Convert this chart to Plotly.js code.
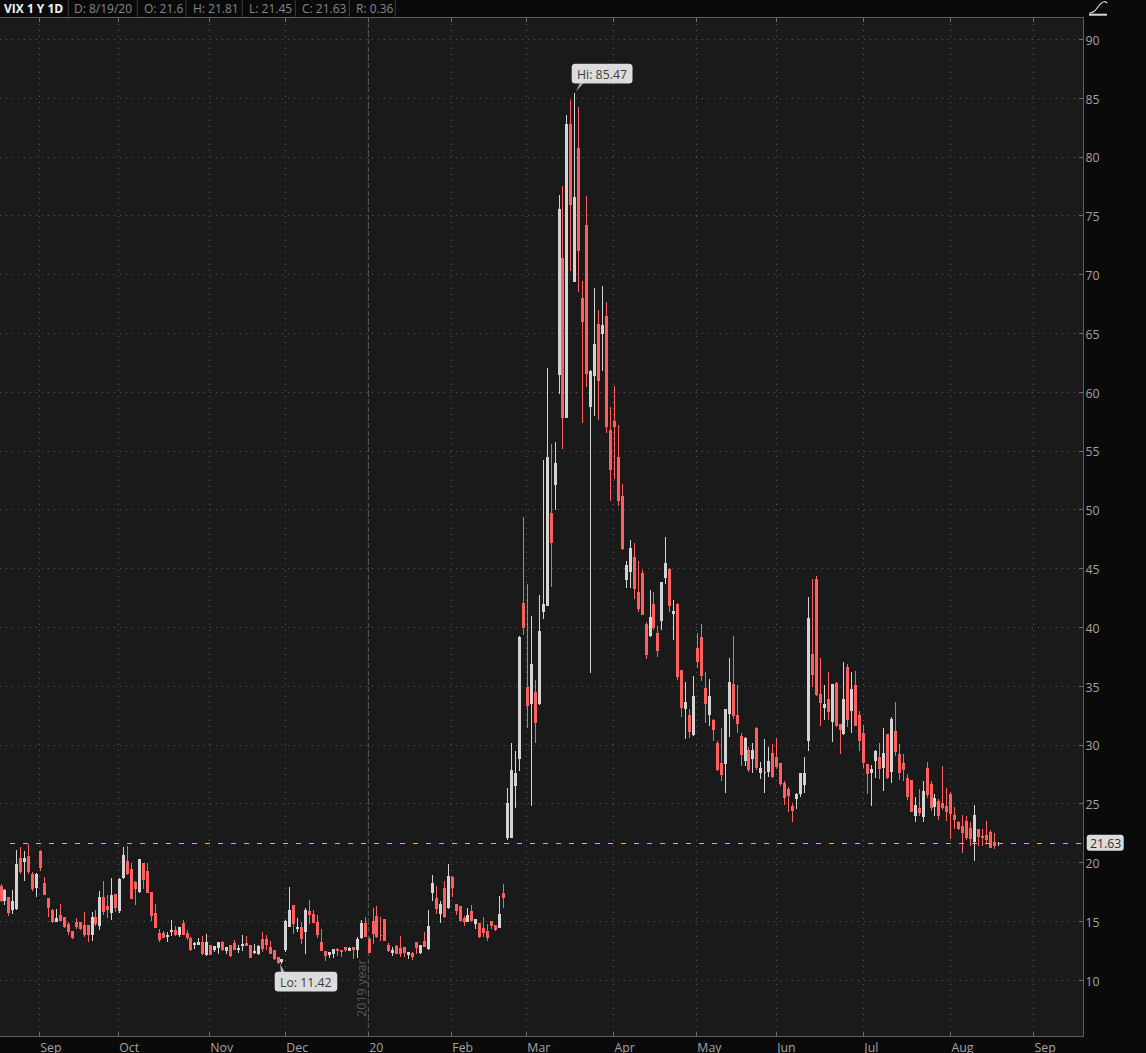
<!DOCTYPE html>
<html><head><meta charset="utf-8">
<script src="https://cdn.plot.ly/plotly-3.0.1.min.js"></script>
<style>html,body{margin:0;padding:0;background:#0a0a0a;overflow:hidden}#c{width:1146px;height:1053px}
.boxlayer path{shape-rendering:crispEdges !important}</style>
</head><body><div id="c"></div>
<script>
const highs=[18.22,17.80,17.09,17.71,21.10,21.36,21.05,21.61,19.21,19.16,
21.10,18.84,17.04,16.08,16.10,16.53,15.40,14.97,14.27,15.34,
15.00,15.82,14.66,15.82,16.02,17.60,18.48,17.32,18.73,17.32,
18.73,21.41,21.44,20.00,18.51,20.34,20.00,20.00,17.46,16.53,
14.41,14.21,14.13,15.17,14.66,14.61,15.17,14.32,13.70,13.28,
13.65,13.79,13.99,13.08,13.00,13.34,13.36,12.91,13.05,13.48,
13.05,13.90,13.82,13.00,13.14,13.08,14.13,13.87,13.36,12.63,
12.01,11.81,15.20,17.97,16.41,15.34,14.97,16.16,16.87,16.02,
15.60,14.41,12.57,12.46,12.69,12.80,12.63,12.86,12.91,12.86,
13.73,15.17,15.45,13.70,16.19,16.33,15.40,15.23,13.25,12.91,
13.08,13.82,12.91,12.49,12.46,13.31,13.08,14.15,16.02,19.01,
18.05,16.81,18.45,19.97,18.90,16.47,16.39,15.54,16.16,16.47,
15.26,14.89,15.40,14.83,15.06,14.77,17.21,18.22,26.36,30.19,
29.51,39.28,49.48,43.76,41.04,35.54,42.82,54.32,62.14,55.68,
55.85,76.84,77.61,83.64,84.86,85.47,84.32,69.53,76.76,61.97,
68.94,67.07,69.11,67.75,58.80,60.58,57.27,52.28,45.74,47.52,
47.27,45.71,44.97,40.55,43.19,43.02,40.21,43.81,47.78,45.09,
42.42,42.11,36.42,35.37,33.10,35.88,39.56,40.33,36.25,35.65,
32.28,30.41,31.49,33.05,37.47,39.34,35.14,31.09,30.75,29.85,
30.24,31.60,28.60,30.55,29.90,30.13,30.64,28.51,26.99,26.50,
25.14,25.99,27.69,29.05,42.62,44.15,44.44,37.44,35.14,36.25,
35.17,35.40,31.77,37.10,36.93,36.25,36.33,32.96,31.77,28.43,
28.34,29.62,30.21,31.49,30.92,32.42,33.70,30.16,29.28,27.58,
27.01,25.63,26.30,27.01,28.63,27.01,25.88,25.48,28.29,26.39,
26.05,24.77,23.56,24.12,24.01,23.50,24.95,22.91,22.93,23.61,
22.82,22.59,21.81];
const lows=[16.67,16.47,15.48,15.68,16.02,19.07,18.48,19.07,17.60,17.09,
19.35,17.26,15.40,14.92,14.97,15.06,14.52,13.90,13.53,14.41,
14.35,13.70,13.28,13.36,14.69,14.32,15.62,15.34,15.17,15.82,
15.74,18.67,19.01,16.92,16.41,17.43,17.77,17.43,15.06,14.47,
13.34,13.62,13.28,13.79,13.85,13.70,13.90,13.48,12.57,12.69,
13.03,12.23,12.15,12.21,12.43,12.26,12.57,12.32,12.01,12.60,
12.35,12.52,12.97,11.92,12.32,12.21,12.49,12.66,12.26,11.81,
11.45,11.42,12.46,14.61,13.99,14.13,13.14,12.29,14.83,14.92,
13.65,12.52,11.67,11.92,11.95,12.15,12.01,12.49,12.52,11.84,
11.95,13.56,13.70,12.38,13.14,13.62,13.36,13.42,12.46,12.15,
12.29,12.01,12.01,11.87,11.78,12.29,12.29,12.86,12.60,16.81,
15.68,14.89,15.31,16.13,17.09,15.60,15.00,14.64,14.97,15.00,
14.41,13.65,13.70,13.36,14.41,14.27,14.47,16.16,21.94,22.17,
24.72,27.83,39.37,31.46,24.89,30.24,33.44,40.78,41.86,43.50,
50.02,59.93,55.26,57.84,70.36,69.39,68.57,57.44,60.50,36.20,
58.00,57.67,61.86,56.59,50.78,52.68,50.41,46.65,43.42,43.42,
42.48,41.38,41.09,37.33,39.22,39.85,37.55,39.85,43.76,41.38,
39.00,35.54,32.45,30.53,30.67,30.84,36.56,35.51,31.89,31.63,
30.36,27.86,26.96,25.94,30.75,32.28,31.04,28.29,28.29,27.72,
27.64,27.95,27.13,25.94,27.35,27.24,28.03,26.59,24.97,24.32,
23.53,24.63,25.65,25.99,29.50,34.95,34.24,31.69,32.20,32.20,
30.33,31.60,29.25,30.92,31.55,31.04,31.69,29.50,28.12,25.88,
24.89,27.21,27.18,26.11,27.15,26.84,29.14,27.10,26.96,25.40,
24.32,23.53,24.04,23.53,25.51,24.46,24.04,23.70,24.52,23.56,
22.08,22.88,22.85,20.89,21.97,21.46,20.21,21.49,21.49,21.63,
21.29,21.18,21.45];
const opens=[18.00,16.75,17.04,16.02,16.10,20.37,20.12,20.54,19.01,17.91,
20.99,18.25,16.98,15.96,15.00,15.54,15.34,14.72,14.18,14.95,
14.95,14.69,14.66,13.93,15.37,14.66,17.07,16.30,15.74,17.26,
15.96,18.70,20.12,19.41,18.34,17.54,19.95,19.27,17.43,15.68,
14.01,13.99,13.76,14.18,14.24,13.87,14.86,14.01,13.59,13.03,
13.08,13.22,12.18,13.00,12.63,12.80,13.25,12.57,13.00,13.17,
12.60,12.94,13.14,12.97,12.35,12.29,13.48,13.48,12.83,12.57,
11.92,11.56,12.63,14.61,16.39,14.41,14.47,14.18,15.88,15.62,
14.95,13.25,12.49,12.23,12.29,12.60,12.54,12.80,12.57,12.80,
12.60,13.65,14.86,13.48,15.00,15.45,13.85,15.20,13.00,12.40,
12.91,12.74,12.83,12.18,12.29,13.25,12.38,13.34,12.71,17.43,
16.98,15.65,17.83,16.19,18.70,16.47,16.30,15.23,15.00,15.88,
14.86,14.86,14.44,14.18,15.00,14.69,14.52,17.40,22.17,22.17,
26.59,28.88,42.03,34.89,33.53,34.46,33.50,41.35,41.86,49.68,
52.14,61.49,71.35,57.84,82.74,69.39,80.70,67.95,74.15,58.77,
61.41,65.74,64.97,66.42,56.73,57.50,54.44,51.12,44.07,44.75,
45.94,42.96,44.58,40.24,39.31,41.94,39.48,40.58,44.24,44.92,
41.18,41.94,36.33,33.10,32.51,30.89,38.23,39.17,34.83,32.62,
32.11,30.16,28.46,28.46,32.71,35.17,32.54,30.75,28.71,29.56,
28.88,31.43,27.69,27.64,27.78,29.31,28.97,28.46,26.76,26.25,
24.80,25.48,25.91,26.67,30.41,37.72,44.09,34.32,33.22,33.90,
32.03,35.26,31.77,31.01,36.62,32.96,35.09,32.54,31.01,28.37,
27.69,28.71,28.97,28.12,30.92,27.78,31.18,29.22,28.46,27.18,
27.01,24.04,24.63,23.95,28.03,26.67,24.80,25.23,25.06,24.80,
25.82,24.04,23.44,23.10,23.53,22.93,21.83,22.85,22.25,22.34,
22.59,21.74,21.60];
const closes=[16.81,17.60,15.79,16.73,19.86,19.27,20.37,19.21,17.83,19.01,
19.58,17.32,16.22,14.97,15.23,15.12,14.58,14.18,13.65,14.58,
14.41,13.90,13.93,15.37,14.83,17.07,15.82,16.02,17.23,16.19,
18.59,20.62,19.07,16.98,17.83,20.28,18.59,17.49,15.51,14.52,
13.50,13.67,13.85,14.27,13.93,14.52,13.93,13.65,12.60,13.14,
13.22,12.32,13.25,12.23,12.91,13.19,12.60,12.77,12.07,12.66,
12.71,13.05,13.00,11.98,12.46,12.91,12.69,13.08,12.32,11.84,
11.50,11.75,14.97,15.96,14.80,14.49,13.59,15.91,15.62,14.95,
13.90,12.57,12.07,12.35,12.63,12.52,12.49,12.60,12.74,12.60,
13.48,14.86,13.76,12.40,13.99,13.76,13.79,13.42,12.52,12.57,
12.32,12.32,12.38,12.40,12.04,12.83,13.00,12.91,14.61,18.25,
16.10,16.41,15.45,18.84,17.91,15.96,15.12,15.00,15.54,15.06,
15.20,13.70,14.07,13.67,14.69,14.35,15.62,17.07,25.03,27.83,
27.58,39.17,40.02,33.36,36.84,31.91,39.65,41.94,54.44,47.21,
53.93,75.51,57.84,82.74,75.94,76.53,72.03,65.99,61.57,61.74,
64.04,60.98,65.65,57.07,53.42,57.07,50.78,46.70,45.26,46.70,
43.30,41.60,41.09,37.69,40.84,39.99,38.03,43.81,45.43,41.86,
41.35,35.82,33.19,33.61,31.15,34.12,37.13,35.94,33.56,34.15,
31.35,27.95,27.52,33.05,35.34,32.54,31.86,29.22,30.58,27.95,
29.56,28.12,28.03,27.69,28.63,27.35,28.17,26.76,25.57,25.74,
24.46,25.82,27.61,27.61,40.75,36.02,34.32,33.64,33.47,32.88,
35.17,31.69,31.35,33.90,32.20,34.75,31.69,30.41,28.54,27.61,
27.95,29.48,28.03,29.31,27.27,32.20,29.48,27.69,27.95,25.65,
24.38,24.89,24.29,26.08,25.82,24.72,25.48,24.04,24.72,24.38,
24.21,23.70,22.93,22.59,22.17,22.08,24.04,22.25,22.11,21.97,
21.32,21.49,21.63];

const monthTicks=[9.68,29.64,52.64,71.85,92.82,113.8,132.75,154.74,175.7,195.9,217.9,239.9,260.9];
const monthLabels=['Sep','Oct','Nov','Dec','20','Feb','Mar','Apr','May','Jun','Jul','Aug','Sep'];
const priceTicks=[10,15,20,25,30,35,40,45,50,55,60,65,70,75,80,85,90];
const headerTexts=['D: 8/19/20','O: 21.6','H: 21.81','L: 21.45','C: 21.63','R: 0.36'];
const lastClose=closes[closes.length-1];

const W=1146,H=1053,mL=0,mR=63,mT=18,mB=17;
const pw=W-mL-mR,ph=H-mT-mB;
const px=x=>(x-mL)/pw, py=y=>1-(y-mT)/ph;
const P=(x,y)=>px(x).toFixed(5)+','+py(y).toFixed(5);
function rr(x0,y0,x1,y1,r){
  return 'M'+P(x0+r,y0)+' L'+P(x1-r,y0)+' Q'+P(x1,y0)+' '+P(x1,y0+r)+' L'+P(x1,y1-r)+' Q'+P(x1,y1)+' '+P(x1-r,y1)+
         ' L'+P(x0+r,y1)+' Q'+P(x0,y1)+' '+P(x0,y1-r)+' L'+P(x0,y0+r)+' Q'+P(x0,y0)+' '+P(x0+r,y0)+' Z';
}
const paperShape=(path,fill,line,w)=>({type:'path',xref:'paper',yref:'paper',path:path,fillcolor:fill||'rgba(0,0,0,0)',line:{color:line||'rgba(0,0,0,0)',width:w||0},layer:'above'});
const vline=x=>({type:'line',xref:'paper',yref:'paper',x0:px(x),x1:px(x),y0:py(0),y1:py(17.5),line:{color:'#3c3c3c',width:1},layer:'above'});

const labelFill='#dcdcdc';
const shapes=[
 {type:'line',xref:'paper',yref:'y',x0:px(10),x1:1,y0:lastClose,y1:lastClose,line:{color:'#e2c22e',width:1,dash:'5px,8px'},layer:'above'},
 {type:'line',xref:'x',yref:'paper',x0:monthTicks[4],x1:monthTicks[4],y0:0,y1:1,line:{color:'#5a5a5a',width:1,dash:'5px,3px'},layer:'below'},
 paperShape(rr(571.7,63.8,632.5,83.6,3.5),labelFill),
 paperShape('M'+P(580,83)+' L'+P(583.5,83)+' L'+P(576,91.5)+' Z','#b4b4b4'),
 paperShape(rr(274.7,971.8,337.3,991.6,3.5),labelFill),
 paperShape('M'+P(281,972)+' L'+P(284.5,972)+' L'+P(280,963.5)+' Z','#b4b4b4'),
 paperShape(rr(1086.7,834.8,1123.7,850.8,3),labelFill),
 vline(68.3),vline(137.3),vline(186),vline(242.3),vline(295.3),vline(349.3),vline(395.3),
 paperShape('M'+P(1089.3,13)+' C'+P(1093.5,13)+' '+P(1095,11)+' '+P(1097.5,7.5)+' C'+P(1100,4)+' '+P(1102.5,1.5)+' '+P(1105,1.5)+' L'+P(1107.3,3),null,'#d8d8d8',1.2),
 paperShape('M'+P(1089,14.7)+' L'+P(1107,14.7),null,'#d8d8d8',2)
];
const F='"Open Sans", sans-serif';
const headerX=[72,141.7,190.7,247,299.7,354];
const annotations=[
 {xref:'paper',yref:'paper',x:px(2),y:py(8.5),xanchor:'left',yanchor:'middle',text:'<b>VIX 1 Y 1D</b>',showarrow:false,font:{family:F,size:12,color:'#f4f4f4'}},
 ...headerTexts.map((t,i)=>({xref:'paper',yref:'paper',x:px(headerX[i]),y:py(8.5),xanchor:'left',yanchor:'middle',text:t,showarrow:false,font:{family:F,size:12,color:'#868686'}})),
 {xref:'paper',yref:'paper',x:px(602.1),y:py(74),xanchor:'center',yanchor:'middle',text:'Hi: 85.47',showarrow:false,font:{family:F,size:12.3,color:'#3a3a3a'}},
 {xref:'paper',yref:'paper',x:px(306),y:py(982),xanchor:'center',yanchor:'middle',text:'Lo: 11.42',showarrow:false,font:{family:F,size:12.3,color:'#3a3a3a'}},
 {xref:'paper',yref:'y',x:px(1105.2),y:lastClose,xanchor:'center',yanchor:'middle',text:'21.63',showarrow:false,font:{family:F,size:12.3,color:'#2c2c2c'}},
 {xref:'paper',yref:'paper',x:px(361.5),y:py(988.5),xanchor:'center',yanchor:'middle',text:'2019 year',textangle:-90,showarrow:false,font:{family:F,size:12.6,color:'#585858'}}
];

const xStep=(998.3-1)/(closes.length-1);
const xs=closes.map((_,i)=>i);
const trace={type:'candlestick',x:xs,open:opens,high:highs,low:lows,close:closes,hoverinfo:'skip',whiskerwidth:0,
 increasing:{line:{color:'#d4d4d4',width:1},fillcolor:'#d4d4d4'},
 decreasing:{line:{color:'#ff5f5f',width:1},fillcolor:'#ff5f5f'}};
const layout={width:W,height:H,autosize:false,margin:{l:mL,r:mR,t:mT,b:mB,pad:0},
 paper_bgcolor:'#0a0a0a',plot_bgcolor:'#1a1a1a',showlegend:false,boxgap:0.42,dragmode:false,
 xaxis:{type:'linear',range:[(0-1)/xStep,(pw-1)/xStep],tickmode:'array',tickvals:monthTicks,ticktext:monthLabels,
  rangeslider:{visible:false},showgrid:true,gridcolor:'#585858',griddash:'1px,5px',gridwidth:1,zeroline:false,
  showline:true,linecolor:'#5e5e5e',linewidth:1,mirror:'ticks',ticks:'inside',ticklen:4,tickcolor:'#6a6a6a',tickwidth:1,
  ticklabelposition:'outside right',ticklabelstandoff:0,tickfont:{family:F,size:12.3,color:'#a4a4a4'}},
 yaxis:{type:'linear',side:'right',range:[5.263,91.83],tickmode:'array',tickvals:priceTicks,ticktext:priceTicks.map(String),
  showgrid:true,gridcolor:'#585858',griddash:'1px,5px',gridwidth:1,zeroline:false,
  showline:true,linecolor:'#5e5e5e',linewidth:1,ticks:'inside',ticklen:4,tickcolor:'#6a6a6a',tickwidth:1,
  ticklabelshift:1,ticklabelstandoff:-1,tickfont:{family:F,size:12.3,color:'#a4a4a4'}},
 shapes:shapes,annotations:annotations};

// Snap each candle the library drew to whole pixels: 1px wick, 3px body.
function snapCandles(){
  document.querySelectorAll('.boxlayer path').forEach(p=>{
    const d=p.getAttribute('d'); if(!d) return;
    const re=/([MLHV])([-\d.,e]+)/g; let m; const vals=[];
    while((m=re.exec(d))){ if(m[1]==='H') vals.push(+m[2]); else if(m[1]!=='V') vals.push(+m[2].split(',')[0]); }
    if(!vals.length) return;
    const c=(Math.min(...vals)+Math.max(...vals))/2, rc=Math.round(c-0.5)+0.5;
    const fx=v=>(+v<c-0.1)?rc-1:(+v>c+0.1)?rc+1:rc, fy=v=>Math.round(+v-0.5)+0.5;
    p.setAttribute('d',d.replace(re,(s,k,a)=>{
      if(k==='H') return 'H'+fx(a);
      if(k==='V') return 'V'+fy(a);
      const q=a.split(','); return k+fx(q[0])+','+fy(q[1]);
    }));
  });
}
Plotly.newPlot('c',[trace],layout,{staticPlot:true,displayModeBar:false}).then(snapCandles);
</script></body></html>
